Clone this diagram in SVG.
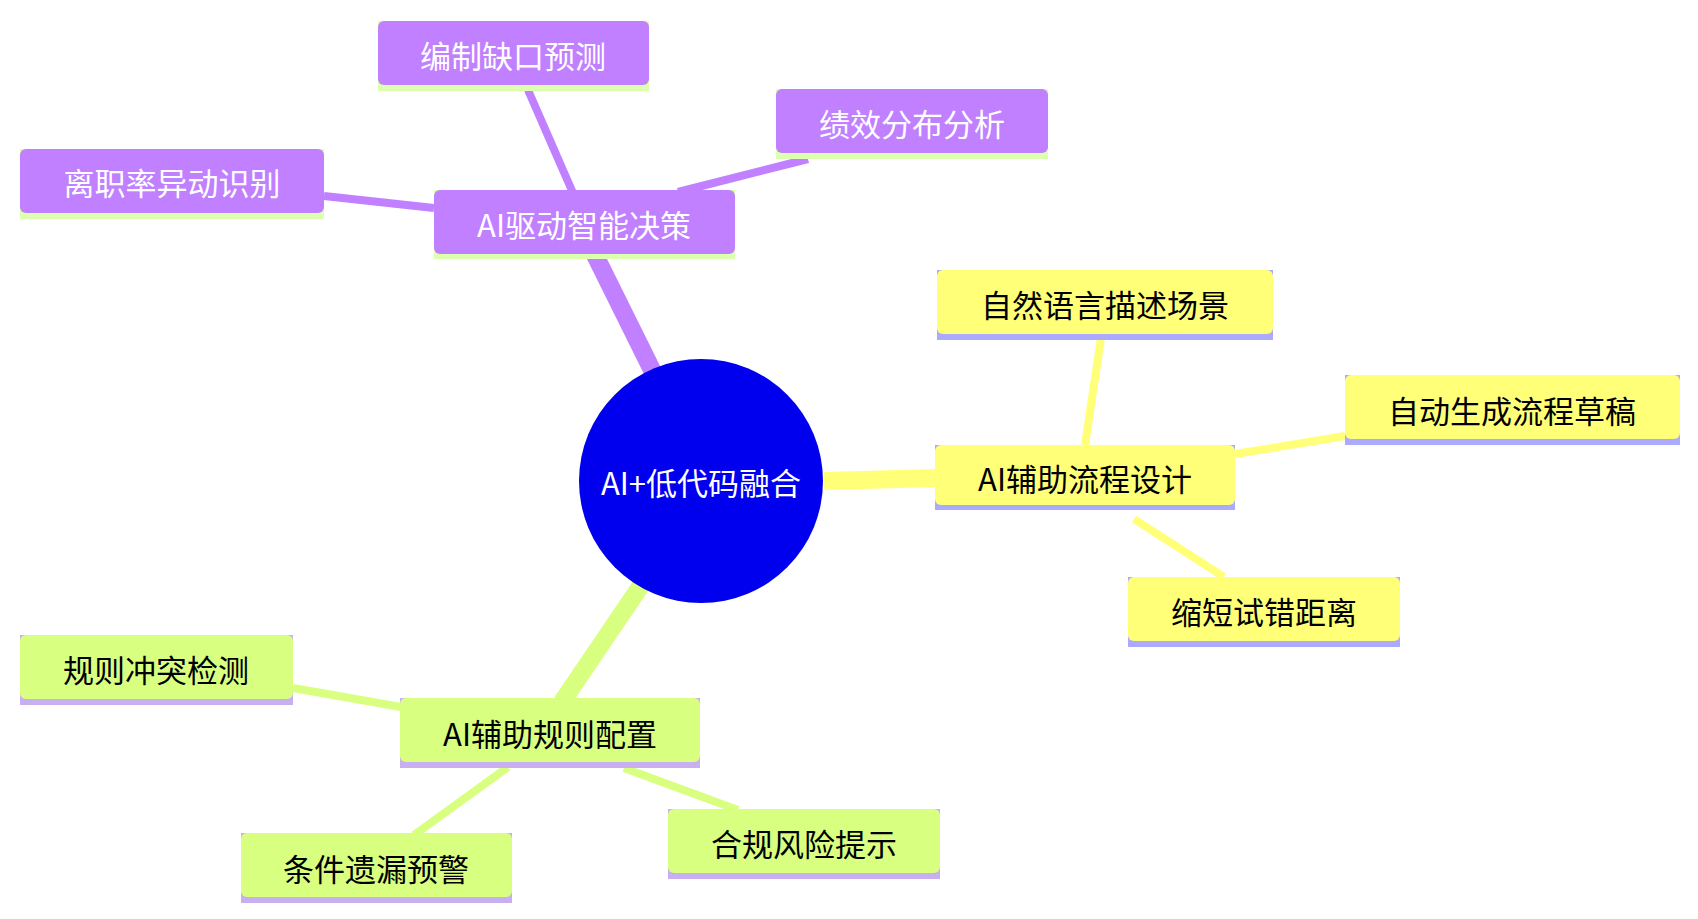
<svg xmlns="http://www.w3.org/2000/svg" width="1698" height="919" viewBox="0 0 1698 919">
<style>
text{font-family:"Noto Sans CJK SC","Noto Sans",sans-serif;font-size:31px;text-anchor:middle;dominant-baseline:central}
.y{fill:#ffff78}.p{fill:#c080ff}.g{fill:#d9ff80}
.yu{fill:#aaaaff}.pu{fill:#dcffb0}.gu{fill:#c8b0f0}
.pt{fill:#fff}
</style>
<rect width="1698" height="919" fill="#fff"/>
<g id="connectors" fill="none" stroke-linecap="butt">
<line x1="824" y1="481" x2="937" y2="478" stroke="#ffff78" stroke-width="18"/>
<line x1="653" y1="372" x2="595" y2="255" stroke="#c080ff" stroke-width="18"/>
<line x1="642" y1="584" x2="562" y2="702" stroke="#d9ff80" stroke-width="18"/>
<line x1="1085" y1="445" x2="1101" y2="338" stroke="#ffff78" stroke-width="8"/>
<line x1="1235" y1="454" x2="1345" y2="436" stroke="#ffff78" stroke-width="8"/>
<line x1="1134" y1="519" x2="1224" y2="577" stroke="#ffff78" stroke-width="8"/>
<line x1="573" y1="193" x2="528" y2="90" stroke="#c080ff" stroke-width="8"/>
<line x1="678" y1="192" x2="808" y2="159" stroke="#c080ff" stroke-width="8"/>
<line x1="434" y1="208" x2="324" y2="196" stroke="#c080ff" stroke-width="8"/>
<line x1="401" y1="707" x2="293" y2="688" stroke="#d9ff80" stroke-width="8"/>
<line x1="508" y1="767" x2="414" y2="835" stroke="#d9ff80" stroke-width="8"/>
<line x1="624" y1="768" x2="738" y2="810" stroke="#d9ff80" stroke-width="8"/>
</g>
<g id="root"><circle cx="701" cy="481" r="122" fill="#0000ee"/><text x="701" y="481" class="pt">AI+低代码融合</text></g>
<g id="n1"><rect x="935" y="445" width="300" height="65" class="yu"/><rect x="935" y="445" width="300" height="60" rx="6" class="y"/><text x="1085" y="477">AI辅助流程设计</text></g>
<g id="n1a"><rect x="937" y="270" width="336" height="70" class="yu"/><rect x="937" y="270" width="336" height="64" rx="6" class="y"/><text x="1105" y="303">自然语言描述场景</text></g>
<g id="n1b"><rect x="1345" y="375" width="335" height="70" class="yu"/><rect x="1345" y="375" width="335" height="64" rx="6" class="y"/><text x="1512" y="409">自动生成流程草稿</text></g>
<g id="n1c"><rect x="1128" y="577" width="272" height="70" class="yu"/><rect x="1128" y="577" width="272" height="64" rx="6" class="y"/><text x="1264" y="610">缩短试错距离</text></g>
<g id="n2"><rect x="434" y="190" width="301" height="69" class="pu"/><rect x="434" y="190" width="301" height="64" rx="6" class="p"/><text x="584" y="223" class="pt">AI驱动智能决策</text></g>
<g id="n2a"><rect x="378" y="21" width="271" height="70" class="pu"/><rect x="378" y="21" width="271" height="64" rx="6" class="p"/><text x="513" y="54" class="pt">编制缺口预测</text></g>
<g id="n2b"><rect x="776" y="89" width="272" height="70" class="pu"/><rect x="776" y="89" width="272" height="64" rx="6" class="p"/><text x="912" y="122" class="pt">绩效分布分析</text></g>
<g id="n2c"><rect x="20" y="149" width="304" height="70" class="pu"/><rect x="20" y="149" width="304" height="64" rx="6" class="p"/><text x="172" y="181" class="pt">离职率异动识别</text></g>
<g id="n3"><rect x="400" y="698" width="300" height="70" class="gu"/><rect x="400" y="698" width="300" height="64" rx="6" class="g"/><text x="550" y="732">AI辅助规则配置</text></g>
<g id="n3a"><rect x="20" y="635" width="273" height="70" class="gu"/><rect x="20" y="635" width="273" height="64" rx="6" class="g"/><text x="156" y="668">规则冲突检测</text></g>
<g id="n3b"><rect x="241" y="833" width="271" height="70" class="gu"/><rect x="241" y="833" width="271" height="64" rx="6" class="g"/><text x="376" y="867">条件遗漏预警</text></g>
<g id="n3c"><rect x="668" y="809" width="272" height="70" class="gu"/><rect x="668" y="809" width="272" height="64" rx="6" class="g"/><text x="804" y="842">合规风险提示</text></g>
</svg>
